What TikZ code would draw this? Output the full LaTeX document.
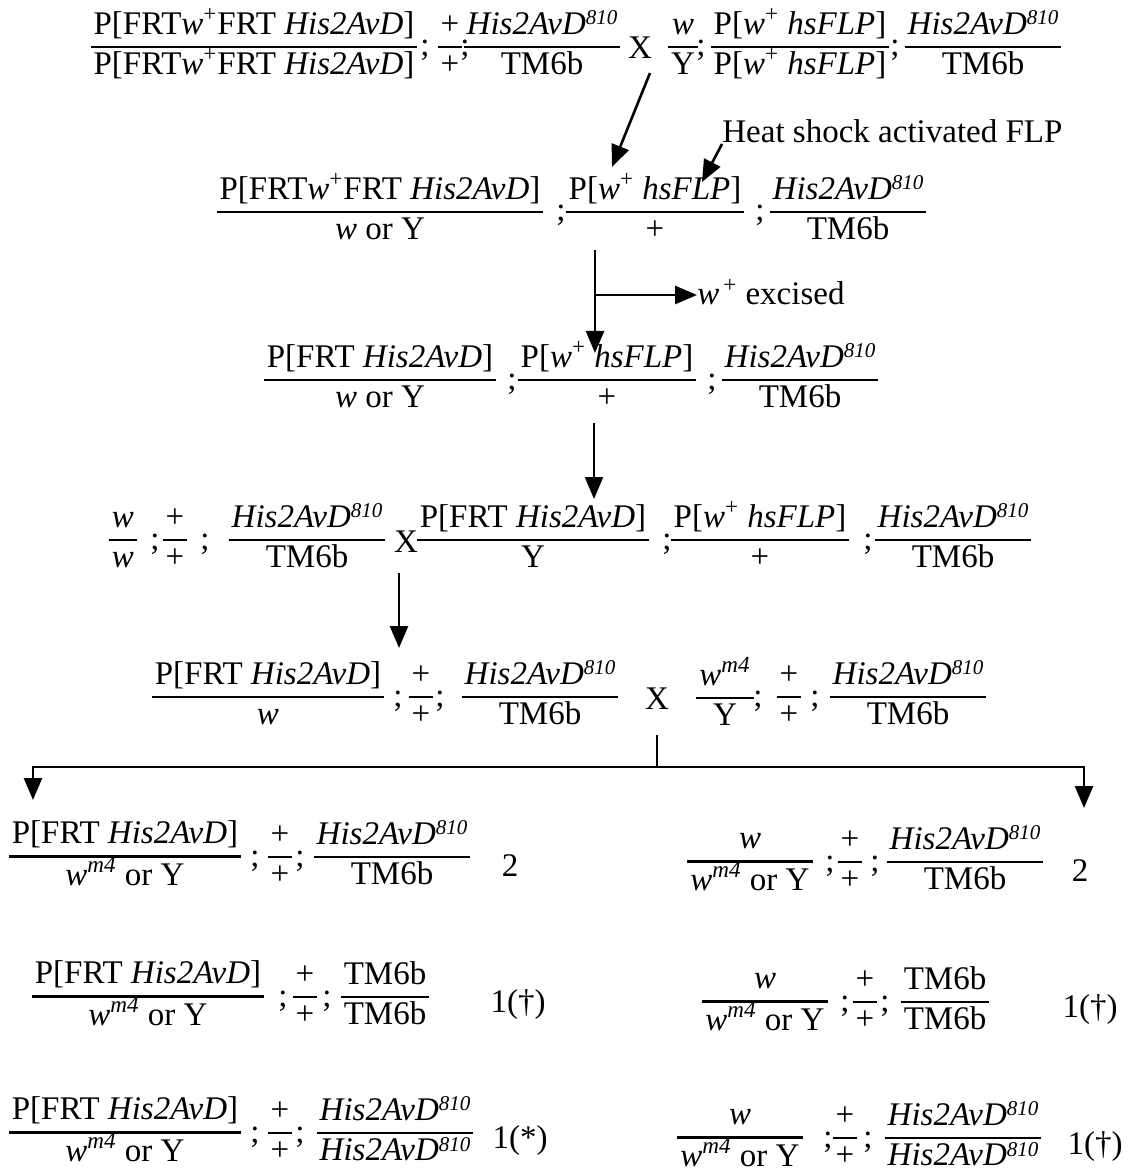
\documentclass[tikz,border=0pt]{standalone}
\usepackage{amsmath}
\usepackage{fontspec}
\setmainfont{Liberation Serif}
\usetikzlibrary{arrows.meta}

\setlength{\arrayrulewidth}{1.1pt}
\renewcommand{\arraystretch}{0}
\newcommand{\his}{\textit{His2AvD}}
\newcommand{\hisb}{\textit{His2AvD}\raisebox{0.62ex}{\fontsize{10.5}{11}\selectfont\textit{810}}}
\newcommand{\wpl}{\textit{w}\textsuperscript{+}}
\newcommand{\wmf}{\textit{w}\textsuperscript{\textit{m4}}}
\newcommand{\flp}{P[\wpl\ \textit{hsFLP}]}
\newcommand{\gfrac}[2]{\begin{tabular}{@{\hspace{1.5pt}}c@{\hspace{1.5pt}}}\rule[-6pt]{0pt}{19pt}#1\\\hline\rule[-6pt]{0pt}{19pt}#2\end{tabular}}

\begin{document}
\begin{tikzpicture}[
    x=0.5pt, y=-0.5pt,
    font=\fontsize{16.5}{20}\selectfont,
    gt/.style={inner sep=0pt, anchor=base},
    lbl/.style={inner sep=0pt, anchor=base west},
    arr/.style={-{Triangle[length=11pt, width=9pt]}, line width=1.3pt},
    ln/.style={line width=1.3pt}
]
\useasboundingbox (0,0) rectangle (1128,1171);

% Parents
\node[gt] (pa) at (254,56) {\gfrac{P[FRT\wpl FRT \his]}{P[FRT\wpl FRT \his]}};
\node[gt] (s1a) at (425,56) {;};
\node[gt] (pb) at (450,56) {\gfrac{+}{+}};
\node[gt] (s1b) at (465,56) {;};
\node[gt] (pc) at (542,56) {\gfrac{\hisb}{TM6b}};
\node[gt] (xa) at (640,59) {X};
\node[gt] (pd) at (683,56) {\gfrac{\textit{w}}{Y}};
\node[gt] (s1c) at (701,56) {;};
\node[gt] (pe) at (800,56) {\gfrac{\flp}{\flp}};
\node[gt] (s1d) at (895,56) {;};
\node[gt] (pf) at (983,56) {\gfrac{\hisb}{TM6b}};

% Heat shock generation
\node[gt] (fa) at (380,221) {\gfrac{P[FRT\wpl FRT \his]}{\textit{w} or Y}};
\node[gt] (s2a) at (561,221) {;};
\node[gt] (fb) at (655,221) {\gfrac{\flp}{+}};
\node[gt] (s2b) at (760,221) {;};
\node[gt] (fc) at (848,221) {\gfrac{\hisb}{TM6b}};
\node[lbl] (heat) at (722,143) {Heat shock activated FLP};

% Excised generation
\node[lbl] (exc) at (697,305) {\textit{w}\textsuperscript{\,+} excised};
\node[gt] (ga) at (380,389) {\gfrac{P[FRT \his]}{\textit{w} or Y}};
\node[gt] (s3a) at (512,389) {;};
\node[gt] (gb) at (607,389) {\gfrac{\flp}{+}};
\node[gt] (s3b) at (712,389) {;};
\node[gt] (gc) at (800,389) {\gfrac{\hisb}{TM6b}};

% Second cross
\node[gt] (ha) at (123,549) {\gfrac{\textit{w}}{\textit{w}}};
\node[gt] (s4a) at (155,549) {;};
\node[gt] (hb) at (175,549) {\gfrac{+}{+}};
\node[gt] (s4b) at (205,549) {;};
\node[gt] (hc) at (307,549) {\gfrac{\hisb}{TM6b}};
\node[gt] (xb) at (406,552) {X};
\node[gt] (hd) at (533,549) {\gfrac{P[FRT \his]}{Y}};
\node[gt] (s4c) at (667,549) {;};
\node[gt] (he) at (760,549) {\gfrac{\flp}{+}};
\node[gt] (s4d) at (868,549) {;};
\node[gt] (hf) at (953,549) {\gfrac{\hisb}{TM6b}};

% Test cross
\node[gt] (ka) at (268,706) {\gfrac{P[FRT \his]}{\textit{w}}};
\node[gt] (s5a) at (398,706) {;};
\node[gt] (kb) at (421,706) {\gfrac{+}{+}};
\node[gt] (s5b) at (440,706) {;};
\node[gt] (kc) at (540,706) {\gfrac{\hisb}{TM6b}};
\node[gt] (xc) at (657,709) {X};
\node[gt] (kd) at (725,706) {\gfrac{\wmf}{Y}};
\node[gt] (s5c) at (758,706) {;};
\node[gt] (ke) at (789,706) {\gfrac{+}{+}};
\node[gt] (s5d) at (815,706) {;};
\node[gt] (kf) at (908,706) {\gfrac{\hisb}{TM6b}};

% Progeny, left
\node[gt] (ma) at (125,866) {\gfrac{P[FRT \his]}{\wmf\ or Y}};
\node[gt] (s6a) at (255,866) {;};
\node[gt] (mb) at (280,866) {\gfrac{+}{+}};
\node[gt] (s6b) at (300,866) {;};
\node[gt] (mc) at (392,866) {\gfrac{\hisb}{TM6b}};
\node[gt] (mn) at (510,876) {2};

\node[gt] (oa) at (148,1006) {\gfrac{P[FRT \his]}{\wmf\ or Y}};
\node[gt] (s7a) at (283,1006) {;};
\node[gt] (ob) at (305,1006) {\gfrac{+}{+}};
\node[gt] (s7b) at (327,1006) {;};
\node[gt] (oc) at (385,1006) {\gfrac{TM6b}{TM6b}};
\node[gt] (on) at (518,1012) {1(\textdagger)};

\node[gt] (ta) at (125,1142) {\gfrac{P[FRT \his]}{\wmf\ or Y}};
\node[gt] (s8a) at (255,1142) {;};
\node[gt] (tb) at (280,1142) {\gfrac{+}{+}};
\node[gt] (s8b) at (300,1142) {;};
\node[gt] (tc) at (395,1142) {\gfrac{\hisb}{\hisb}};
\node[gt] (tn) at (520,1148) {1(*)};

% Progeny, right
\node[gt] (na) at (750,871) {\gfrac{\textit{w}}{\wmf\ or Y}};
\node[gt] (s6c) at (830,871) {;};
\node[gt] (nb) at (850,871) {\gfrac{+}{+}};
\node[gt] (s6d) at (875,871) {;};
\node[gt] (nc) at (965,871) {\gfrac{\hisb}{TM6b}};
\node[gt] (nn) at (1080,881) {2};

\node[gt] (qa) at (765,1011) {\gfrac{\textit{w}}{\wmf\ or Y}};
\node[gt] (s7c) at (845,1011) {;};
\node[gt] (qb) at (865,1011) {\gfrac{+}{+}};
\node[gt] (s7d) at (885,1011) {;};
\node[gt] (qc) at (945,1011) {\gfrac{TM6b}{TM6b}};
\node[gt] (qn) at (1090,1017) {1(\textdagger)};

\node[gt] (ua) at (740,1147) {\gfrac{\textit{w}}{\wmf\ or Y}};
\node[gt] (s8c) at (828,1147) {;};
\node[gt] (ub) at (845,1147) {\gfrac{+}{+}};
\node[gt] (s8d) at (868,1147) {;};
\node[gt] (uc) at (963,1147) {\gfrac{\hisb}{\hisb}};
\node[gt] (un) at (1095,1154) {1(\textdagger)};

% Arrow ends
\coordinate (c1a) at (650,73);
\coordinate (c1b) at (612,167);
\coordinate (c2b) at (702,182);
\coordinate (c3a) at (595,250);
\coordinate (c3m) at (595,295);
\coordinate (c3b) at (595,353);
\coordinate (c4a) at (594,423);
\coordinate (c4b) at (594,499);
\coordinate (c5a) at (399,573);
\coordinate (c5b) at (399,648);
\coordinate (c6a) at (657,735);
\coordinate (c6m) at (657,767);
\coordinate (c6l) at (33,800);
\coordinate (c6r) at (1084,808);

% Arrows
\draw[arr] (c1a) -- (c1b);
\draw[arr] ([yshift=-0.5pt]heat.base west) -- (c2b);
\draw[arr] (c3a) -- (c3b);
\draw[arr] (c3m) -- (c3m -| exc.west);
\draw[arr] (c4a) -- (c4b);
\draw[arr] (c5a) -- (c5b);
\draw[ln] (c6a) -- (c6m);
\draw[arr] (c6m) -| (c6l);
\draw[arr] (c6m) -| (c6r);

\end{tikzpicture}
\end{document}
